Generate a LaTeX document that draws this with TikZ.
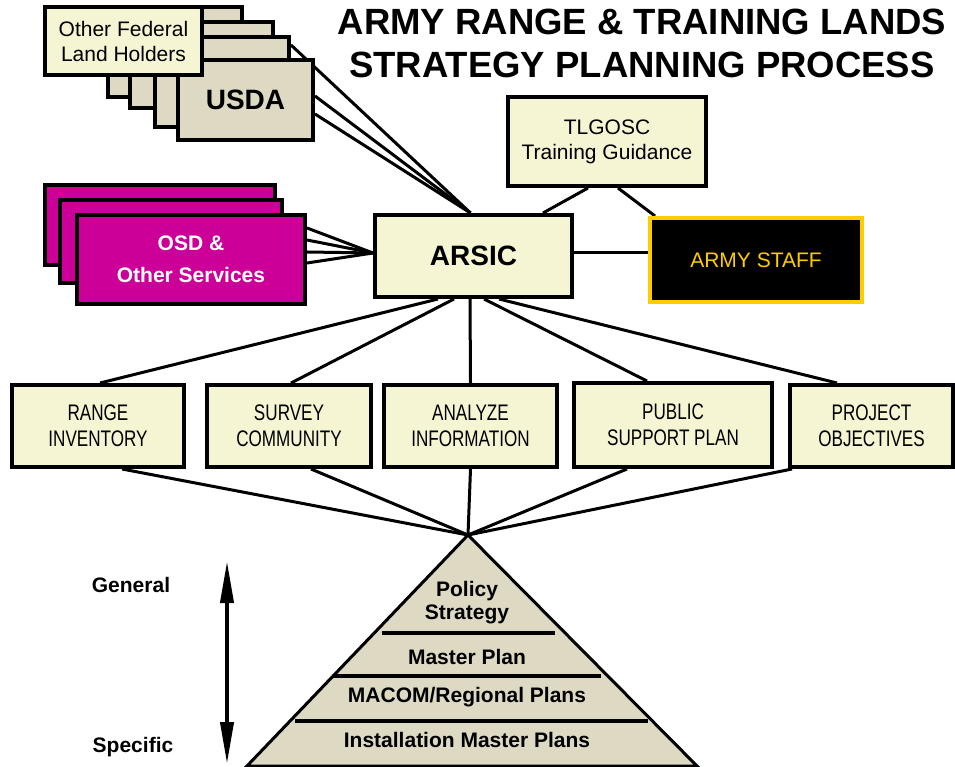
\documentclass[tikz,border=0pt]{standalone}
\usepackage{fontspec}
\setmainfont{Liberation Sans}
\newfontfamily\narrowfont[FakeStretch=0.76]{Liberation Sans}
\usetikzlibrary{arrows.meta, backgrounds}
\definecolor{paleyellow}{HTML}{F5F5D3}
\definecolor{landtan}{HTML}{DDD9C3}
\definecolor{osdmagenta}{HTML}{CC0099}
\definecolor{staffgold}{HTML}{FFCC00}
\tikzstyle{holder} = [rectangle, draw=black, line width=4pt, fill=landtan, inner sep=0pt]
\tikzstyle{paper} = [rectangle, draw=black, line width=4pt, fill=paleyellow, inner sep=0pt, align=center, font=\fontsize{21}{25}\selectfont]
\tikzstyle{service} = [rectangle, draw=black, line width=4pt, fill=osdmagenta, text=white, inner sep=0pt, align=center, font=\bfseries\fontsize{21}{32}\selectfont]
\tikzstyle{task} = [paper, minimum height=82pt, font=\narrowfont\fontsize{22.5}{25.5}\selectfont]
\tikzstyle{level} = [align=center, font=\bfseries\fontsize{21}{23}\selectfont]
\tikzstyle{link} = [line width=3pt]

\begin{document}
\begin{tikzpicture}[x=1pt, y=-1pt]
\useasboundingbox (0,0) rectangle (955,767);

% Title
\node (title) at (642,43.5) [align=center, font=\bfseries\fontsize{36.5}{43}\selectfont] {ARMY RANGE \& TRAINING LANDS\\STRATEGY PLANNING PROCESS};

% Land holders
\node (usdaA) at (175,52) [holder, minimum width=134pt, minimum height=90pt] {};
\node (usdaB) at (201.5,65) [holder, minimum width=143pt, minimum height=86pt] {};
\node (usdaC) at (222,82) [holder, minimum width=134pt, minimum height=90pt] {};
\node (usda) at (245.5,100) [holder, minimum width=135pt, minimum height=80pt, font=\bfseries\fontsize{28}{30}\selectfont] {USDA};
\node (fedland) at (123.5,41) [paper, minimum width=157pt, minimum height=68pt] {Other Federal\\Land Holders};

% Services
\node (osdA) at (160,225) [service, minimum width=230pt, minimum height=80pt] {};
\node (osdB) at (171,241.5) [service, minimum width=222pt, minimum height=83pt] {};
\node (osd) at (191,259.5) [service, minimum width=228pt, minimum height=89pt] {OSD \&\\Other Services};

% Centre
\node (arsic) at (473.5,256) [paper, minimum width=197pt, minimum height=82pt, font=\bfseries\fontsize{28}{30}\selectfont] {ARSIC};
\node (tlgosc) at (607,141.5) [paper, minimum width=198pt, minimum height=89pt] {TLGOSC\\Training Guidance};
\node (staff) at (756,260) [rectangle, draw=staffgold, fill=black, text=staffgold, line width=4pt, minimum width=212pt, minimum height=84pt, font=\fontsize{21}{25}\selectfont] {ARMY STAFF};

% Tasks
\node (range) at (98,426) [task, minimum width=172pt] {RANGE\\INVENTORY};
\node (survey) at (289,426) [task, minimum width=164pt] {SURVEY\\COMMUNITY};
\node (analyze) at (470.5,426) [task, minimum width=173pt] {ANALYZE\\INFORMATION};
\node (public) at (673,425) [task, minimum width=198pt, minimum height=84pt] {PUBLIC\\SUPPORT PLAN};
\node (project) at (871.5,426) [task, minimum width=163pt] {PROJECT\\OBJECTIVES};

% Pyramid
\coordinate (apex) at (468,535);
\coordinate (baseL) at (247,766);
\coordinate (baseR) at (697,766);
\draw [fill=landtan, line width=3pt] (apex) -- (baseR) -- (baseL) -- cycle;
\draw [line width=4pt] (382,633) -- (555,633);
\draw [line width=4pt] (333,676) -- (601,676);
\draw [line width=4pt] (295,721) -- (648,721);
\node (policy) at (467,603) [level] {Policy\\Strategy};
\node (master) at (467,657) [level] {Master Plan};
\node (macom) at (467,697) [level] {MACOM/Regional Plans};
\node (install) at (467,740) [level] {Installation Master Plans};

% General - specific
\node (general) at (131,585) [level] {General};
\node (specific) at (133,747) [level] {Specific};
\coordinate (gentop) at (227,561);
\coordinate (specbot) at (227,764);
\draw [line width=4pt, {Triangle[length=42pt,width=13pt]}-{Triangle[length=42pt,width=13pt]}] (gentop) -- (specbot);

% Links
\begin{scope}[on background layer]
\draw [link] ([yshift=-10pt]usdaC.north east) -- ([xshift=-3pt]arsic.north);
\draw [link] ([yshift=4pt]usda.east) -- ([xshift=-3pt]arsic.north);
\draw [link] ([yshift=-14pt]usda.east) -- ([xshift=-3pt]arsic.north);
\foreach \dy in {31.5pt, 19.5pt, 7.5pt, -3.5pt}
  \draw [link] ([yshift=\dy]osd.east) -- ([yshift=3pt]arsic.west);
\draw [link] ([xshift=-19pt]tlgosc.south) -- ([xshift=69.5pt]arsic.north);
\draw [link] ([xshift=11pt]tlgosc.south) -- ([xshift=7pt]staff.north west);
\draw [link] ([yshift=3pt]arsic.east) -- ([yshift=7pt]staff.west);
\foreach \from/\to/\dx in {-35.5pt/range/2pt, -19.5pt/survey/2pt, -3.5pt/analyze/0pt, 10.5pt/public/-26pt, 25.5pt/project/-34.5pt}
  \draw [link] ([xshift=\from]arsic.south) -- ([xshift=\dx]\to.north);
\foreach \task/\dx in {range/24pt, survey/22pt, analyze/0pt, public/-46pt, project/-79.5pt}
  \draw [link] ([xshift=\dx]\task.south) -- (apex);
\end{scope}

\end{tikzpicture}
\end{document}
